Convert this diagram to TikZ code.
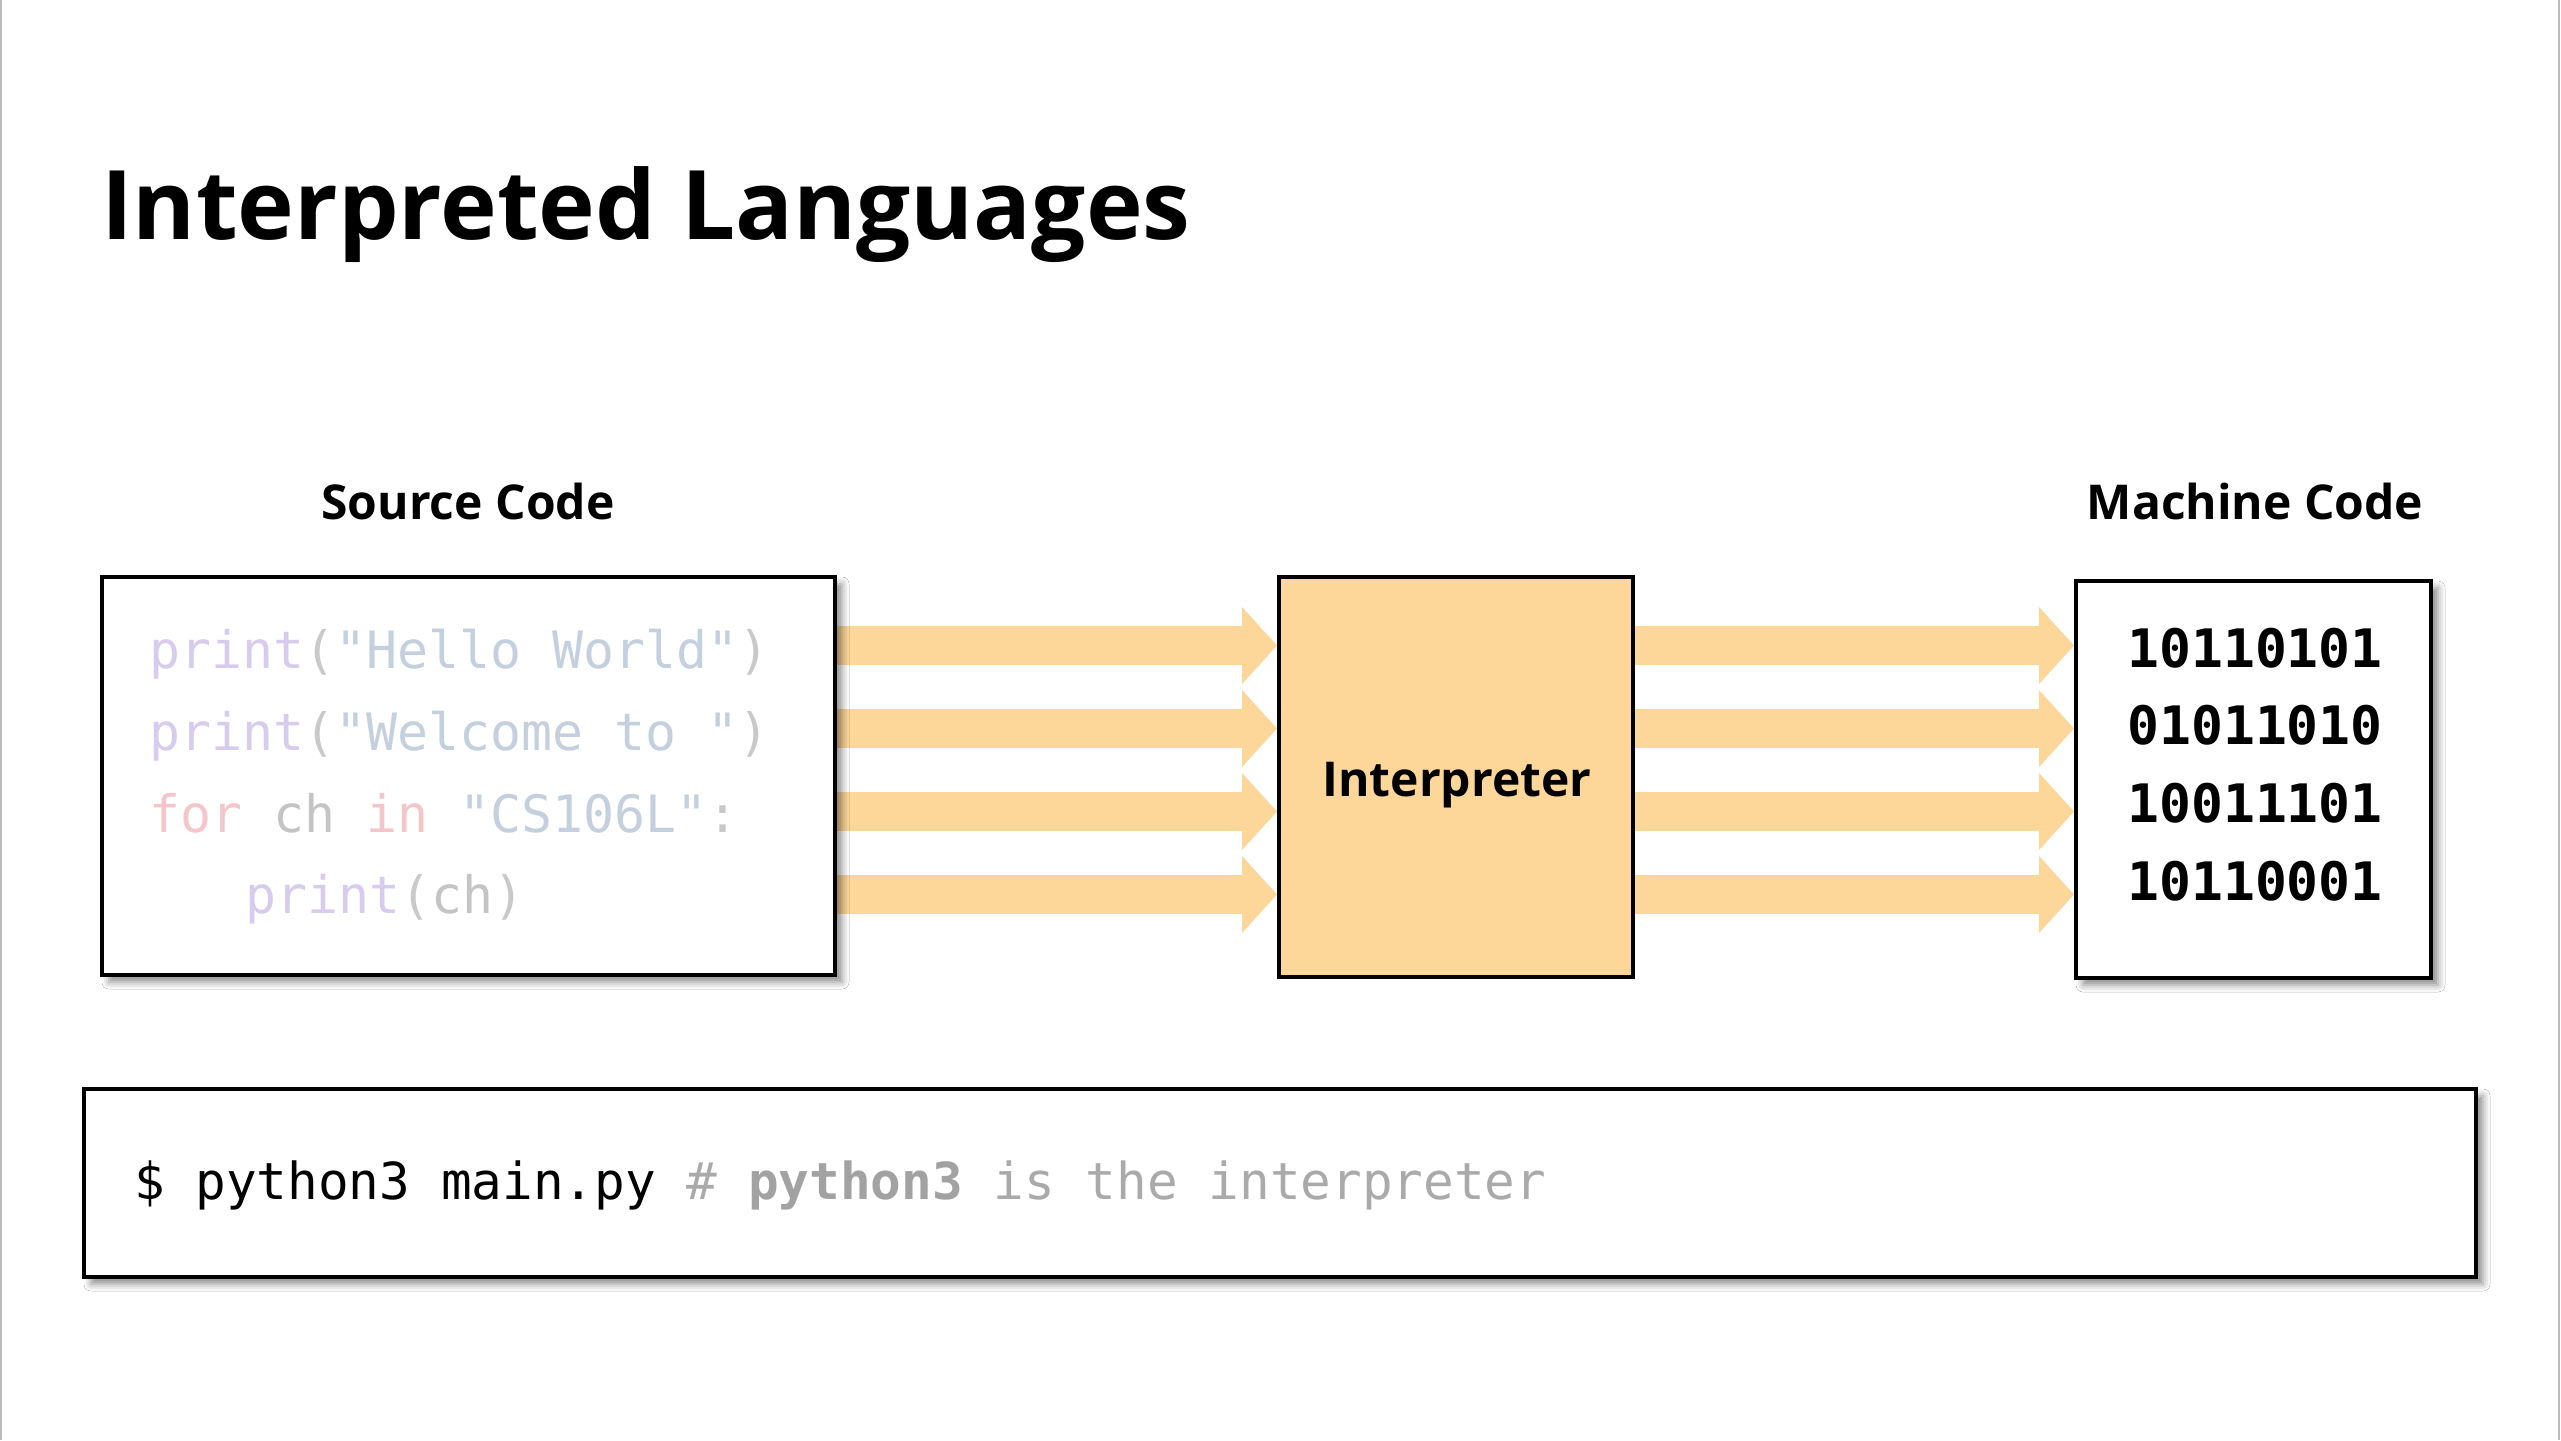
\documentclass[tikz,border=0pt]{standalone}
\usepackage{fontspec}
\setmainfont{Open Sans}
\newfontfamily\codefont{DejaVu Sans Mono}
\usetikzlibrary{shadows.blur,arrows.meta}
\definecolor{arr}{HTML}{FDD69A}
\definecolor{cprint}{HTML}{D7CCEE}
\definecolor{cstr}{HTML}{C5D0DE}
\definecolor{cpar}{HTML}{C9C9C9}
\definecolor{ckey}{HTML}{F4C6CB}
\definecolor{cvar}{HTML}{C4C4C4}
\definecolor{ccom}{HTML}{AAAAAA}
\definecolor{ccomb}{HTML}{A2A2A2}
\definecolor{frame}{HTML}{BDBDBD}
\tikzset{
  box/.style={draw=black, line width=4pt, fill=white, inner sep=0pt, outer sep=0pt},
  shadowed/.style={blur shadow={shadow xshift=7pt, shadow yshift=-7pt, shadow blur radius=7pt, shadow opacity=45}},
  codetext/.style={inner sep=0pt, outer sep=0pt, font=\codefont\fontsize{51.5}{60}\selectfont},
  cmdtext/.style={inner sep=0pt, outer sep=0pt, font=\codefont\fontsize{51}{60}\selectfont},
  bintext/.style={inner sep=0pt, outer sep=0pt, font=\codefont\bfseries\fontsize{53}{60}\selectfont},
  labeltext/.style={inner sep=0pt, outer sep=0pt, font=\bfseries\fontsize{48}{56}\selectfont},
  flow/.style={draw=arr, line width=39pt, -{Triangle[length=35pt,width=77pt,line width=0pt]}}
}
\begin{document}
\begin{tikzpicture}[x=1pt,y=-1pt]
\useasboundingbox (0,0) rectangle (2561,1440);
\fill[white] (0,0) rectangle (2561,1440);
\draw[frame, line width=2pt] (1,0) -- (1,1440);
\draw[frame, line width=2pt] (2559,0) -- (2559,1440);

% title
\node[inner sep=0pt, anchor=base west, font=\bfseries\fontsize{96}{110}\selectfont] (title) at (101,239) {Interpreted Languages};

% labels
\node[labeltext, anchor=base] (srclabel) at (468,519) {Source Code};
\node[labeltext, anchor=base] (maclabel) at (2255,519) {Machine Code};

% row coordinates
\coordinate (r1) at (0,645.5);
\coordinate (r2) at (0,728.5);
\coordinate (r3) at (0,811.5);
\coordinate (r4) at (0,894.5);

% boxes (geometry only, used as anchors for arrows)
\path (468.5,776) node[minimum width=737pt, minimum height=402pt, inner sep=0pt, outer sep=0pt] (src) {};
\path (1456,777) node[minimum width=358pt, minimum height=404pt, inner sep=0pt, outer sep=0pt] (interp) {};
\path (2253.5,779.5) node[minimum width=359pt, minimum height=401pt, inner sep=0pt, outer sep=0pt] (mach) {};

% arrows
\foreach \r in {r1,r2,r3,r4}{
  \draw[flow] (src.east |- \r) -- (interp.west |- \r);
  \draw[flow] (interp.east |- \r) -- (mach.west |- \r);
}

% visible boxes
\node[box, shadowed, minimum width=733pt, minimum height=398pt] (srcbox) at (src.center) {};
\node[box, fill=arr, minimum width=354pt, minimum height=400pt] (interpbox) at (interp.center) {};
\node[box, shadowed, minimum width=355pt, minimum height=397pt] (machbox) at (mach.center) {};
\node[box, shadowed, minimum width=2392pt, minimum height=188pt] (cmdbox) at (1280,1183) {};

% source code
\node[codetext, anchor=base west] (code1) at (149,668) {\textcolor{cprint}{print}\textcolor{cpar}{(}\textcolor{cstr}{"Hello World"}\textcolor{cpar}{)}};
\node[codetext, anchor=base west] (code2) at (149,750) {\textcolor{cprint}{print}\textcolor{cpar}{(}\textcolor{cstr}{"Welcome to "}\textcolor{cpar}{)}};
\node[codetext, anchor=base west] (code3) at (149,832) {\textcolor{ckey}{for} \textcolor{cvar}{ch} \textcolor{ckey}{in} \textcolor{cstr}{"CS106L"}\textcolor{cpar}{:}};
\node[codetext, anchor=base west] (code4) at (152,913) {\hphantom{xxx}\textcolor{cprint}{print}\textcolor{cpar}{(}\textcolor{cvar}{ch}\textcolor{cpar}{)}};

% interpreter label
\node[labeltext, anchor=base] (interplabel) at (1457,796) {Interpreter};

% machine code
\node[bintext, anchor=base] (bin1) at (2255,667) {10110101};
\node[bintext, anchor=base] (bin2) at (2255,744) {01011010};
\node[bintext, anchor=base] (bin3) at (2255,822) {10011101};
\node[bintext, anchor=base] (bin4) at (2255,900) {10110001};

% command line
\node[cmdtext, anchor=base west] (cmd) at (134,1199) {\$ python3 main.py \textcolor{ccom}{\#} \textcolor{ccomb}{\bfseries python3} \textcolor{ccom}{is the interpreter}};
\end{tikzpicture}
\end{document}
